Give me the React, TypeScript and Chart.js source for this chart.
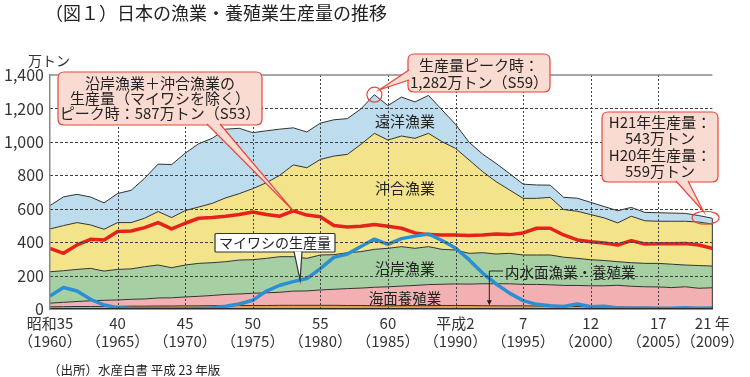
import React, { useEffect, useRef } from 'react';
import { Chart, registerables } from 'chart.js';

Chart.register(...registerables);

const FONT = '"Noto Sans CJK JP", "Noto Sans", sans-serif';

// 1960 (昭和35) – 2009 (平成21), 万トン
const years = [
  1960, 1961, 1962, 1963, 1964, 1965, 1966, 1967, 1968, 1969,
  1970, 1971, 1972, 1973, 1974, 1975, 1976, 1977, 1978, 1979,
  1980, 1981, 1982, 1983, 1984, 1985, 1986, 1987, 1988, 1989,
  1990, 1991, 1992, 1993, 1994, 1995, 1996, 1997, 1998, 1999,
  2000, 2001, 2002, 2003, 2004, 2005, 2006, 2007, 2008, 2009,
];

const inland = [
  13, 14, 15, 15, 16, 16, 17, 17, 18, 18,
  19, 19, 20, 20, 21, 21, 21, 22, 22, 22,
  22, 22, 21, 21, 20, 19, 20, 20, 20, 21,
  21, 21, 20, 19, 19, 19, 18, 17, 16, 15,
  14, 13, 12, 11, 11, 10, 9, 9, 8, 8,
];

const marineAquaculture = [
  22, 26, 30, 34, 36, 38, 41, 43, 48, 49,
  53, 57, 61, 67, 69, 73, 76, 78, 85, 86,
  92, 96, 101, 104, 110, 114, 117, 121, 126, 127,
  129, 128, 131, 132, 132, 128, 129, 128, 125, 126,
  125, 126, 130, 125, 122, 122, 119, 124, 116, 119,
];

const coastal = [
  188, 189, 192, 194, 175, 183, 182, 193, 197, 180,
  191, 197, 196, 196, 203, 201, 206, 213, 206, 195,
  209, 207, 215, 218, 227, 230, 236, 222, 227, 209,
  203, 184, 186, 178, 182, 176, 176, 178, 169, 162,
  156, 151, 141, 141, 140, 141, 140, 130, 136, 130,
];

const offshore = [
  256, 270, 280, 260, 250, 280, 277, 290, 320, 300,
  326, 337, 355, 382, 397, 425, 452, 487, 549, 542,
  572, 590, 588, 642, 694, 648, 662, 658, 678, 644,
  608, 559, 485, 433, 379, 339, 339, 345, 285, 282,
  270, 255, 232, 278, 255, 252, 257, 262, 260, 251,
];

const distantWater = [
  140, 172, 169, 167, 158, 174, 193, 239, 284, 317,
  343, 379, 389, 411, 391, 335, 311, 276, 222, 214,
  217, 217, 214, 212, 231, 206, 233, 218, 227, 190,
  144, 106, 105, 109, 98, 85, 80, 73, 73, 78,
  73, 68, 73, 53, 50, 51, 49, 47, 39, 35,
];

const sardine = [
  78, 129, 108, 58, 24, 8, 3, 2, 2, 2,
  2, 4, 6, 16, 30, 52, 107, 142, 164, 182,
  242, 309, 329, 374, 418, 387, 421, 436, 449, 410,
  365, 295, 215, 150, 95, 50, 28, 20, 15, 30,
  14, 16, 6, 5, 5, 3, 5, 8, 4, 6,
];

const coastalOffshoreExSardine = [
  363, 333, 383, 417, 413, 463, 467, 487, 517, 479,
  513, 543, 547, 555, 565, 580, 565, 555, 587, 562,
  552, 500, 490, 495, 505, 495, 483, 455, 445, 443,
  443, 440, 443, 448, 445, 455, 483, 483, 443, 413,
  403, 395, 383, 409, 389, 390, 390, 392, 383, 363,
];

const tickYears = [1960, 1965, 1970, 1975, 1980, 1985, 1990, 1995, 2000, 2005, 2009];
const tickEra = ['昭和35', '40', '45', '50', '55', '60', '平成2', '7', '12', '17', '21 年'];
const tickWestern = ['（1960）', '（1965）', '（1970）', '（1975）', '（1980）', '（1985）', '（1990）', '（1995）', '（2000）', '（2005）', '（2009）'];
const yTicks = [0, 200, 400, 600, 800, 1000, 1200, 1400];

const BOX_FILL = '#fadbd1';
const BOX_STROKE = '#e6463c';
const GRID = '#3e3e3e';

function roundRectPath(ctx: CanvasRenderingContext2D, x: number, y: number, w: number, h: number, r: number) {
  ctx.beginPath();
  ctx.moveTo(x + r, y);
  ctx.lineTo(x + w - r, y);
  ctx.quadraticCurveTo(x + w, y, x + w, y + r);
  ctx.lineTo(x + w, y + h - r);
  ctx.quadraticCurveTo(x + w, y + h, x + w - r, y + h);
  ctx.lineTo(x + r, y + h);
  ctx.quadraticCurveTo(x, y + h, x, y + h - r);
  ctx.lineTo(x, y + r);
  ctx.quadraticCurveTo(x, y, x + r, y);
  ctx.closePath();
}

function callout(
  ctx: CanvasRenderingContext2D,
  bx: number, by: number, bw: number, bh: number, r: number,
  b0: [number, number], b1: [number, number], tip: [number, number],
  fill: string, stroke: string,
) {
  ctx.save();
  ctx.setLineDash([]);
  ctx.lineWidth = 1.2;
  ctx.strokeStyle = stroke;
  ctx.fillStyle = fill;
  roundRectPath(ctx, bx, by, bw, bh, r);
  ctx.fill();
  ctx.stroke();
  ctx.beginPath();
  ctx.moveTo(b0[0], b0[1]);
  ctx.lineTo(tip[0], tip[1]);
  ctx.lineTo(b1[0], b1[1]);
  ctx.closePath();
  ctx.fill();
  ctx.beginPath();
  ctx.moveTo(b0[0], b0[1]);
  ctx.lineTo(tip[0], tip[1]);
  ctx.lineTo(b1[0], b1[1]);
  ctx.stroke();
  ctx.restore();
}

function text(ctx: CanvasRenderingContext2D, s: string, x: number, y: number, size: number, align: CanvasTextAlign = 'center', color = '#222') {
  ctx.font = `${size}px ${FONT}`;
  ctx.textAlign = align;
  ctx.textBaseline = 'middle';
  ctx.fillStyle = color;
  ctx.fillText(s, x, y);
}

function drawGrid(chart: any) {
  const ctx: CanvasRenderingContext2D = chart.ctx;
  const xs = chart.scales.x;
  const ys = chart.scales.y;
  const area = chart.chartArea;
  ctx.save();
  ctx.strokeStyle = GRID;
  ctx.lineWidth = 1;
  ctx.setLineDash([3, 2]);
  for (const v of yTicks) {
    if (v === 0 || v === 1400) continue;
    const py = Math.round(ys.getPixelForValue(v)) + 0.5;
    ctx.beginPath();
    ctx.moveTo(area.left, py);
    ctx.lineTo(area.right, py);
    ctx.stroke();
  }
  ctx.setLineDash([2, 2]);
  for (const v of tickYears) {
    if (v === years[0] || v === years[years.length - 1]) continue;
    const px = Math.round(xs.getPixelForValue(v)) + 0.5;
    ctx.beginPath();
    ctx.moveTo(px, area.top);
    ctx.lineTo(px, area.bottom);
    ctx.stroke();
  }
  ctx.restore();
}

const gridLayer = {
  id: 'gridLayer',
  afterDatasetsDraw(chart: any) {
    drawGrid(chart);
  },
};

const decorations = {
  id: 'decorations',
  afterDraw(chart: any) {
    const ctx: CanvasRenderingContext2D = chart.ctx;
    const xs = chart.scales.x;
    const ys = chart.scales.y;
    const last = years.length - 1;
    const totalAt = (i: number) =>
      inland[i] + marineAquaculture[i] + coastal[i] + offshore[i] + distantWater[i];

    ctx.save();
    ctx.setLineDash([]);
    // top frame line at 1,400
    ctx.strokeStyle = '#8a8a8a';
    ctx.lineWidth = 1.5;
    ctx.beginPath();
    ctx.moveTo(xs.left, ys.getPixelForValue(1400));
    ctx.lineTo(xs.right, ys.getPixelForValue(1400));
    ctx.stroke();
    // right edge of the stacked areas
    ctx.strokeStyle = '#333';
    ctx.lineWidth = 1;
    ctx.beginPath();
    ctx.moveTo(xs.getPixelForValue(years[last]), ys.getPixelForValue(0));
    ctx.lineTo(xs.getPixelForValue(years[last]), ys.getPixelForValue(totalAt(last)));
    ctx.stroke();

    // title, unit, source
    text(ctx, '（図１）日本の漁業・養殖業生産量の推移', 45, 13, 18, 'left', '#222');
    text(ctx, '万トン', 49, 61, 14, 'center', '#333');
    text(ctx, '（出所）水産白書 平成 23 年版', 48, 370, 12.5, 'left', '#222');

    // area labels
    text(ctx, '遠洋漁業', 405, 121, 15);
    text(ctx, '沖合漁業', 405, 188, 15);
    text(ctx, '沿岸漁業', 405, 268, 15);
    text(ctx, '海面養殖業', 405, 298, 14.5);
    text(ctx, '内水面漁業・養殖業', 505, 272, 14.5, 'left');

    // leader to inland layer
    const lx = xs.getPixelForValue(1992.5);
    const ltip = ys.getPixelForValue(inland[32] + 2);
    ctx.strokeStyle = '#222';
    ctx.lineWidth = 1;
    ctx.beginPath();
    ctx.moveTo(503, 271);
    ctx.lineTo(lx, 271);
    ctx.lineTo(lx, ltip - 4);
    ctx.stroke();
    ctx.fillStyle = '#222';
    ctx.beginPath();
    ctx.moveTo(lx - 2.5, ltip - 5);
    ctx.lineTo(lx + 2.5, ltip - 5);
    ctx.lineTo(lx, ltip);
    ctx.closePath();
    ctx.fill();

    // callout 1: peak of coastal+offshore ex sardine (S53)
    const i53 = years.indexOf(1978);
    const tip1: [number, number] = [xs.getPixelForValue(1978), ys.getPixelForValue(coastalOffshoreExSardine[i53])];
    callout(ctx, 58, 72, 204, 53, 6, [207, 124], [220, 124], tip1, BOX_FILL, BOX_STROKE);
    text(ctx, '沿岸漁業＋沖合漁業の', 160, 83.5, 15);
    text(ctx, '生産量（マイワシを除く）', 160, 98, 15);
    text(ctx, 'ピーク時：587万トン（S53）', 160, 113.5, 15);

    // callout 2: total peak (S59)
    const i59 = years.indexOf(1984);
    const cx2 = xs.getPixelForValue(1984);
    const cy2 = ys.getPixelForValue(totalAt(i59));
    callout(ctx, 408, 54, 142, 38, 6, [409, 70], [409, 80], [cx2 + 5, cy2 - 5], BOX_FILL, BOX_STROKE);
    ctx.strokeStyle = BOX_STROKE;
    ctx.lineWidth = 1.2;
    ctx.beginPath();
    ctx.arc(cx2, cy2, 7.5, 0, Math.PI * 2);
    ctx.stroke();
    text(ctx, '生産量ピーク時：', 479, 65.5, 15);
    text(ctx, '1,282万トン（S59）', 479, 82, 15);

    // callout 3: H21 / H20
    const ex = xs.getPixelForValue(2008.5);
    const ey = ys.getPixelForValue((totalAt(last) + totalAt(last - 1)) / 2 - 5);
    callout(ctx, 602, 112, 116, 70, 6, [676, 181], [688, 181], [ex - 2, ey - 6], BOX_FILL, BOX_STROKE);
    ctx.strokeStyle = BOX_STROKE;
    ctx.lineWidth = 1.2;
    ctx.beginPath();
    ctx.ellipse(ex, ey, 13.5, 6.5, 0, 0, Math.PI * 2);
    ctx.stroke();
    text(ctx, 'H21年生産量：', 660, 122, 15);
    text(ctx, '543万トン', 660, 138.5, 15);
    text(ctx, 'H20年生産量：', 660, 155, 15);
    text(ctx, '559万トン', 660, 171.5, 15);

    // sardine label
    const i78 = years.indexOf(1978);
    const tip4: [number, number] = [
      xs.getPixelForValue(1978.5),
      ys.getPixelForValue((sardine[i78] + sardine[i78 + 1]) / 2),
    ];
    callout(ctx, 215, 233.5, 120, 18.5, 1, [294, 251.5], [302, 251.5], tip4, '#ffffff', '#333');
    text(ctx, 'マイワシの生産量', 275, 242.5, 14);
    ctx.restore();
  },
};

export default function App() {
  const ref = useRef<HTMLCanvasElement>(null);

  useEffect(() => {
    const canvas = ref.current;
    if (!canvas) return;
    const pts = (arr: number[]) => years.map((yr, i) => ({ x: yr, y: arr[i] }));
    const area = (label: string, arr: number[], color: string, fill: any) => ({
      label,
      data: pts(arr),
      stack: 'production',
      backgroundColor: color,
      borderColor: '#333',
      borderWidth: 1,
      fill,
      pointRadius: 0,
      tension: 0,
    });

    const chart = new Chart(canvas, {
      type: 'line',
      data: {
        datasets: [
          {
            label: 'マイワシの生産量',
            data: pts(sardine),
            stack: 'sardine',
            borderColor: '#2b8fd3',
            borderWidth: 3.5,
            fill: false,
            pointRadius: 0,
            tension: 0,
          },
          {
            label: '沿岸漁業＋沖合漁業（マイワシを除く）',
            data: pts(coastalOffshoreExSardine),
            stack: 'exSardine',
            borderColor: '#e6221b',
            borderWidth: 3.5,
            fill: false,
            pointRadius: 0,
            tension: 0,
          },
          area('内水面漁業・養殖業', inland, '#e2a04b', 'origin'),
          area('海面養殖業', marineAquaculture, '#f2b0b2', '-1'),
          area('沿岸漁業', coastal, '#a6d0a3', '-1'),
          area('沖合漁業', offshore, '#f3e48b', '-1'),
          area('遠洋漁業', distantWater, '#bddcee', '-1'),
        ] as any,
      },
      options: {
        responsive: false,
        animation: false,
        layout: { padding: { top: 75, right: 30, left: 0, bottom: 0 } },
        elements: { line: { borderJoinStyle: 'round' } },
        plugins: {
          legend: { display: false },
          tooltip: { enabled: false },
          title: { display: false },
        },
        scales: {
          x: {
            type: 'linear',
            min: years[0],
            max: years[years.length - 1],
            afterBuildTicks: (s: any) => {
              s.ticks = tickYears.map((v) => ({ value: v }));
            },
            afterFit: (s: any) => {
              s.height = 68;
            },
            grid: { drawOnChartArea: false, drawTicks: false },
            border: { display: true, color: '#2b2b2b', width: 1.5, z: 1 },
            ticks: {
              autoSkip: false,
              maxRotation: 0,
              padding: 6,
              color: '#333',
              font: { family: FONT, size: 15, lineHeight: 1.15 },
              callback: (v: any) => {
                const i = tickYears.indexOf(Number(v));
                return i >= 0 ? [tickEra[i], tickWestern[i]] : '';
              },
            },
          },
          y: {
            type: 'linear',
            stacked: true,
            min: 0,
            max: 1400,
            afterBuildTicks: (s: any) => {
              s.ticks = yTicks.map((v) => ({ value: v }));
            },
            afterFit: (s: any) => {
              s.width = 50;
            },
            grid: { drawOnChartArea: false, drawTicks: false },
            border: { display: true, color: '#8a8a8a', width: 1.5, z: 1 },
            ticks: {
              padding: 6,
              color: '#333',
              font: { family: FONT, size: 16 },
              callback: (v: any) => Number(v).toLocaleString('en-US'),
            },
          },
        },
      } as any,
      plugins: [gridLayer, decorations],
    });

    return () => chart.destroy();
  }, []);

  return (
    <div style={{ position: 'fixed', left: 0, top: 0, width: 750, height: 377, background: '#fff' }}>
      <canvas ref={ref} width={750} height={377} style={{ display: 'block', width: 750, height: 377 }} />
    </div>
  );
}
